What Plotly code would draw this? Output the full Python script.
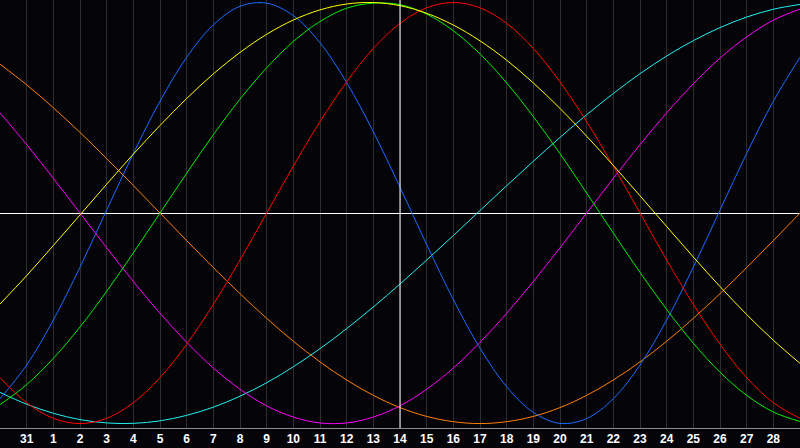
import plotly.graph_objects as go

# day labels along the bottom (x positions 1..29), chart spans 0..30
day_labels = ["31"] + [str(d) for d in range(1, 29)]
x_pos = list(range(0, 31))
today = "14"

# cycle values in percent, read at each day position 0..30
blue = [-88.2, -72.2, -50.8, -25.7, 1.4, 28.3, 53.1, 74.0, 89.4, 98.2, 99.7,
        93.8, 80.9, 62.0, 38.6, 12.3, -15.0, -41.1, -64.2, -82.5, -94.7,
        -99.9, -97.6, -88.2, -72.2, -50.8, -25.7, 1.4, 28.3, 53.1, 74.0]
red = [-78.2, -90.1, -97.5, -100.0, -97.5, -90.1, -78.2, -62.3, -43.4, -22.3, 0.0,
       22.3, 43.4, 62.3, 78.2, 90.1, 97.5, 100.0, 97.5, 90.1, 78.2,
       62.3, 43.4, 22.3, 0.0, -22.3, -43.4, -62.3, -78.2, -90.1, -97.5]
green = [-91.0, -81.5, -69.0, -54.1, -37.2, -18.9, 0.0, 18.9, 37.2, 54.1, 69.0,
         81.5, 91.0, 97.3, 99.7, 99.0, 94.5, 86.6, 75.6, 61.8, 45.8,
         28.2, 9.5, -9.5, -28.2, -45.8, -61.8, -75.6, -86.6, -94.5, -99.0]
magenta = [47.6, 32.5, 16.5, 0.0, -16.5, -32.5, -47.6, -61.4, -73.6, -83.7, -91.6,
           -96.9, -99.7, -99.7, -96.9, -91.6, -83.7, -73.6, -61.4, -47.6, -32.5,
           -16.5, 0.0, 16.5, 32.5, 47.6, 61.4, 73.6, 83.7, 91.6, 96.9]
yellow = [-43.2, -29.7, -15.4, -0.9, 13.7, 28.0, 41.6, 54.4, 66.1, 76.3, 84.9,
          91.7, 96.5, 99.3, 100.0, 98.5, 94.9, 89.3, 81.8, 72.6, 61.8,
          49.7, 36.5, 22.6, 8.2, -6.4, -20.9, -34.9, -48.2, -60.4, -71.4]
orange = [70.7, 60.9, 50.0, 38.3, 25.9, 13.1, 0.0, -13.1, -25.9, -38.3, -50.0,
          -60.9, -70.7, -79.3, -86.6, -92.4, -96.6, -99.1, -100.0, -99.1, -96.6,
          -92.4, -86.6, -79.3, -70.7, -60.9, -50.0, -38.3, -25.9, -13.1, 0.0]
cyan = [-85.2, -90.8, -95.1, -98.1, -99.7, -99.9, -98.7, -96.1, -92.2, -87.0, -80.6,
        -73.0, -64.4, -54.9, -44.6, -33.7, -22.3, -10.7, 1.2, 13.0, 24.6,
        35.9, 46.7, 56.8, 66.2, 74.6, 81.9, 88.1, 93.1, 96.8, 99.1]

series = [
    (cyan, "#22f0f0"),
    (orange, "#ff8000"),
    (magenta, "#ff00ff"),
    (blue, "#1a6cff"),
    (red, "#ff0000"),
    (green, "#00ee00"),
    (yellow, "#ffff00"),
]

fig = go.Figure()
for vals, col in series:
    fig.add_trace(go.Scatter(
        x=x_pos, y=vals, mode="lines",
        line=dict(color=col, width=1, shape="spline"),
        hoverinfo="skip", showlegend=False,
    ))

# today marker
today_x = day_labels.index(today) + 1
fig.add_vline(x=today_x, line_color="white", line_width=1)

fig.update_layout(
    width=800, height=448,
    margin=dict(l=0, r=0, t=0, b=20),
    paper_bgcolor="#050409", plot_bgcolor="#050409",
    showlegend=False,
)
fig.update_xaxes(
    range=[0, 30], tickmode="array",
    tickvals=list(range(1, len(day_labels) + 1)), ticktext=day_labels,
    showgrid=True, gridcolor="#2e2e2e", gridwidth=1,
    showline=True, linecolor="#8a8a8a", linewidth=1, mirror=True,
    ticks="", zeroline=False,
    tickfont=dict(family="Liberation Sans", size=12, color="white", weight="bold"),
)
fig.update_yaxes(
    range=[-102.1, 101.2], showticklabels=False, showgrid=False,
    zeroline=True, zerolinecolor="white", zerolinewidth=1,
    showline=True, linecolor="#8a8a8a", linewidth=1,
)

# page has a default 8px body margin; drop it so the chart fills the window
fig.write_html("out.html", config={"displayModeBar": False},
               post_script="document.body.style.margin='0';")
